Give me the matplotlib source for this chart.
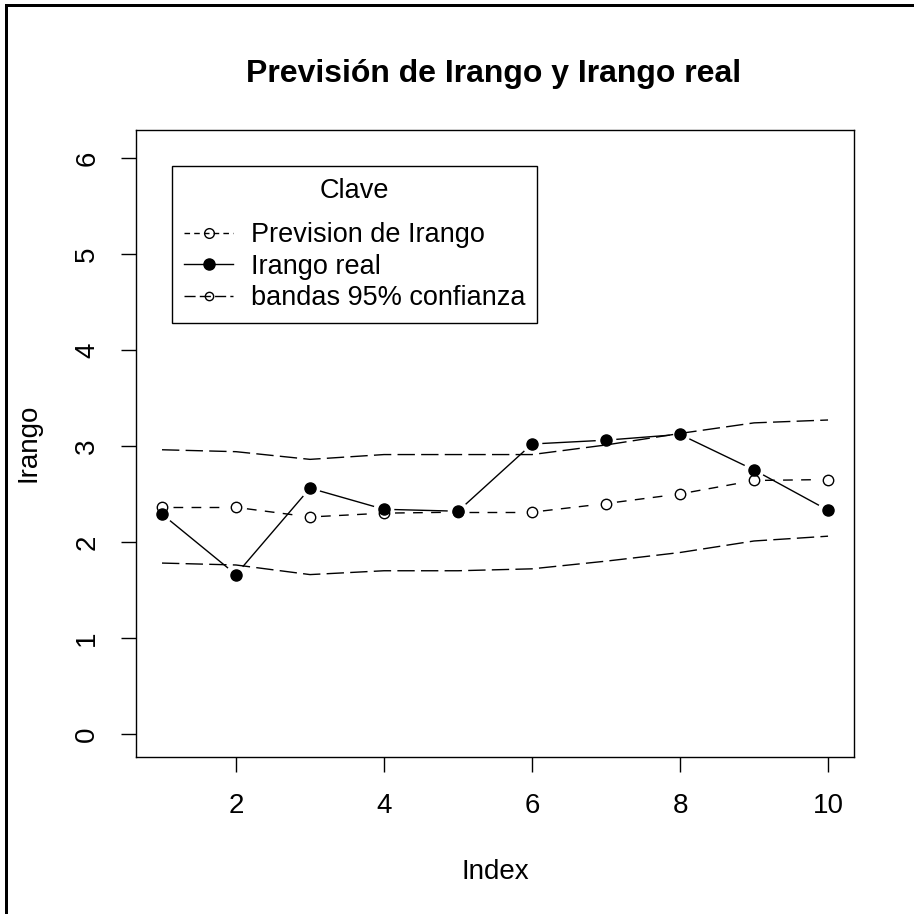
import numpy as np
import matplotlib
matplotlib.use("Agg")
import matplotlib.pyplot as plt
from matplotlib.lines import Line2D
from matplotlib.patches import Rectangle

plt.rcParams['font.family'] = ['Liberation Sans', 'DejaVu Sans']

# data
index = [1, 2, 3, 4, 5, 6, 7, 8, 9, 10]
prevision = [2.36, 2.36, 2.26, 2.30, 2.31, 2.31, 2.40, 2.50, 2.64, 2.65]
irango_real = [2.29, 1.66, 2.56, 2.34, 2.32, 3.02, 3.06, 3.12, 2.75, 2.33]
banda_sup = [2.96, 2.94, 2.86, 2.91, 2.91, 2.91, 3.01, 3.13, 3.24, 3.27]
banda_inf = [1.78, 1.76, 1.66, 1.70, 1.70, 1.72, 1.80, 1.89, 2.01, 2.06]

x_ticks = [2, 4, 6, 8, 10]
y_ticks = [0, 1, 2, 3, 4, 5, 6]

W = H = 914
fig = plt.figure(figsize=(W / 100, H / 100), dpi=100)
# plot box in pixels: left 136, right 854, top 130, bottom 757
ax = fig.add_axes([136 / W, 1 - 757 / H, 718 / W, 627 / H])
ax.set_xlim(0.6486, 10.351)
ax.set_ylim(-0.2396, 6.29)


def gapped(ax, x, y, gap_px, **kw):
    # R type="b": line segments stop short of the points
    pts = ax.transData.transform(np.column_stack([x, y]))
    inv = ax.transData.inverted()
    for p0, p1 in zip(pts[:-1], pts[1:]):
        d = p1 - p0
        L = np.hypot(*d)
        if L <= 2 * gap_px:
            continue
        u = d / L
        seg = inv.transform(np.array([p0 + u * gap_px, p1 - u * gap_px]))
        ax.plot(seg[:, 0], seg[:, 1], **kw)


lw = 1.0
# confidence bands (long dash, lines only)
ax.plot(index, banda_sup, color='black', lw=lw, dashes=(12.5, 4.5))
ax.plot(index, banda_inf, color='black', lw=lw, dashes=(12.5, 4.5))

# forecast: dashed + open circles
gapped(ax, index, prevision, 11, color='black', lw=lw, dashes=(7, 6))
ax.plot(index, prevision, ls='none', marker='o', ms=7.5, mfc='none',
        mec='black', mew=1.0)

# real values: solid + filled circles
gapped(ax, index, irango_real, 11, color='black', lw=lw)
ax.plot(index, irango_real, ls='none', marker='o', ms=8, mfc='black',
        mec='black', mew=1.0)

ax.set_xticks(x_ticks)
ax.set_yticks(y_ticks)
ax.set_xticklabels([str(t) for t in x_ticks])
ax.set_yticklabels([str(t) for t in y_ticks], rotation=90, va='center')
ax.tick_params(length=10.8, width=1.0, pad=15, labelsize=20, direction='out')
for s in ax.spines.values():
    s.set_linewidth(1.0)

handles = [
    Line2D([], [], color='black', lw=lw, dashes=(4, 3), marker='o', ms=7,
           mfc='none', mec='black'),
    Line2D([], [], color='black', lw=lw, marker='o', ms=8, mfc='black'),
    Line2D([], [], color='black', lw=lw, dashes=(8, 3), marker='o', ms=6,
           mfc='none', mec='black'),
]
labels = ['Prevision de Irango', 'Irango real', 'bandas 95% confianza']
leg = ax.legend(handles, labels, title='Clave', loc='upper left',
                bbox_to_anchor=(36 / 718, (757 - 166) / 627),
                borderaxespad=0, fontsize=19.5, title_fontsize=19.5,
                fancybox=False, edgecolor='black', framealpha=1,
                handlelength=1.8, handletextpad=0.65, borderpad=0.45,
                labelspacing=0.2)
leg.get_frame().set_linewidth(1.0)
# extra room between the legend title and the entries, as in R
leg._legend_box.sep = 13

fig.text(494 / W, 1 - 74 / H, 'Previsión de Irango y Irango real',
         ha='center', va='center', fontsize=23, fontweight='bold')
fig.text(495 / W, 1 - 872 / H, 'Index', ha='center', va='center', fontsize=20)
fig.text(28 / W, 1 - 443 / H, 'Irango', ha='center', va='center',
         rotation=90, fontsize=20)

# screenshot frame on the top and left edges
fig.add_artist(Rectangle((5 / W, 1 - 7 / H), 1 - 5 / W, 3 / H,
                         transform=fig.transFigure, color='black', lw=0))
fig.add_artist(Rectangle((5 / W, 0), 3 / W, 1 - 4 / H,
                         transform=fig.transFigure, color='black', lw=0))

fig.savefig('out.png', dpi=100)
